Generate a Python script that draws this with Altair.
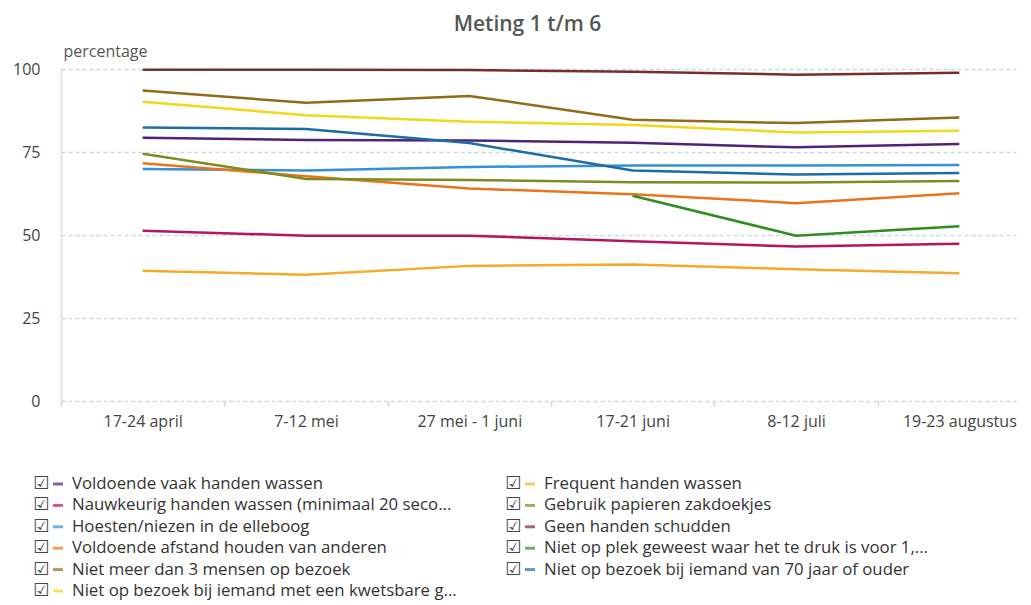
import json
import altair as alt
import pandas as pd

periods = ["17-24 april", "7-12 mei", "27 mei - 1 juni", "17-21 juni", "8-12 juli", "19-23 augustus"]

names = [
    "Voldoende vaak handen wassen",
    "Nauwkeurig handen wassen (minimaal 20 seco...",
    "Hoesten/niezen in de elleboog",
    "Voldoende afstand houden van anderen",
    "Niet meer dan 3 mensen op bezoek",
    "Niet op bezoek bij iemand met een kwetsbare g...",
    "Frequent handen wassen",
    "Gebruik papieren zakdoekjes",
    "Geen handen schudden",
    "Niet op plek geweest waar het te druk is voor 1,...",
    "Niet op bezoek bij iemand van 70 jaar of ouder",
]
colors = ["#4e2378", "#b5155f", "#3590d6", "#e8741c", "#8f6d16", "#f2d81a",
          "#f5ab28", "#7c8c1f", "#7a2b2b", "#2f8c1e", "#1c6ca6"]

voldoende_vaak = [79.3, 78.6, 78.5, 77.8, 76.4, 77.4]
nauwkeurig = [51.3, 49.8, 49.8, 48.1, 46.5, 47.4]
hoesten = [69.9, 69.4, 70.5, 70.9, 70.9, 71.1]
afstand = [71.6, 67.7, 64.0, 62.3, 59.6, 62.6]
max3 = [93.5, 89.8, 91.9, 84.7, 83.7, 85.4]
kwetsbaar = [90.1, 86.1, 84.1, 83.1, 80.9, 81.4]
frequent = [39.2, 38.0, 40.7, 41.1, 39.7, 38.5]
zakdoekjes = [74.5, 66.9, 66.6, 65.9, 65.8, 66.3]
geen_handen = [99.8, 99.8, 99.7, 99.2, 98.3, 98.9]
druk = [None, None, None, 61.8, 49.8, 52.6]
bezoek70 = [82.4, 81.9, 77.7, 69.4, 68.2, 68.7]

series = [voldoende_vaak, nauwkeurig, hoesten, afstand, max3, kwetsbaar,
          frequent, zakdoekjes, geen_handen, druk, bezoek70]

rows = []
for name, vals in zip(names, series):
    for idx, (p, v) in enumerate(zip(periods, vals)):
        if v is not None:
            rows.append({"series": name, "period": p, "idx": idx, "value": v})
df = pd.DataFrame(rows)

leg_rows = []
for i, name in enumerate(names):
    leg_rows.append({"series": name, "col": i // 6, "row": i % 6})
leg_df = pd.DataFrame(leg_rows)

FONT = "Open Sans"
GRID = "#c9d7e6"
color_scale = alt.Scale(domain=names, range=colors)

n = len(periods)
tick_values = [i * 0.5 - 0.5 for i in range(2 * n)]
label_expr = ("datum.value % 1 === 0 ? " + json.dumps(periods) + "[datum.value] : ''")

lines = alt.Chart(df).mark_line(strokeWidth=2.5).encode(
    x=alt.X("idx:Q", scale=alt.Scale(domain=[-0.5, 5.347], nice=False, zero=False),
            axis=alt.Axis(title=None, values=tick_values, labelExpr=label_expr,
                          labelOverlap=False, labelFlush=False, domain=False, grid=False,
                          tickSize={"condition": {"test": "datum.value % 1 === 0", "value": 0}, "value": 5},
                          tickColor=GRID, tickWidth=1.5, labelAngle=0,
                          labelPadding=12, labelFontSize=16, labelColor="#444", labelFont=FONT)),
    y=alt.Y("value:Q", scale=alt.Scale(domain=[0, 100]),
            axis=alt.Axis(values=[0, 25, 50, 75, 100], title="percentage", titleAngle=0,
                          titleX=2, titleY=-10, titleAlign="left", titleBaseline="bottom",
                          titleFontWeight="normal", titleFontSize=16, titleColor="#555",
                          titleFont=FONT, labelFont=FONT, labelFontSize=16, labelColor="#444",
                          labelPadding=21, ticks=False, domainColor="#d6e0ec", domainWidth=1.5,
                          gridColor=GRID, gridDash=[4, 3], gridWidth=1.5)),
    color=alt.Color("series:N", scale=color_scale, legend=None),
    detail="series:N",
).properties(width=955, height=332)

leg_base = alt.Chart(leg_df).encode(
    x=alt.X("col:Q", scale=alt.Scale(domain=[0, 1]), axis=None),
    y=alt.Y("row:Q", scale=alt.Scale(domain=[0, 5], reverse=True), axis=None),
)
check = leg_base.mark_text(text="☑", dx=-20, fontSize=18, color="#444",
                           align="center", baseline="middle", font="DejaVu Sans")
dash = leg_base.mark_tick(orient="horizontal", size=10, thickness=3, xOffset=-3).encode(
    color=alt.Color("series:N", scale=color_scale, legend=None))
label = leg_base.mark_text(align="left", baseline="middle", dx=11, fontSize=16.8,
                           font=FONT, color="#333").encode(text="series:N")
legend = alt.layer(check, dash, label).properties(width=472, height=107)

chart = alt.vconcat(lines, legend, spacing=41).properties(
    title=alt.Title("Meting 1 t/m 6", anchor="middle", fontSize=21, font=FONT,
                    fontWeight=600, color="#555", offset=8, dx=13),
    padding={"left": 4, "top": 6, "right": 0, "bottom": 0},
).configure_view(stroke=None)

chart.save("out.html", embed_options={"renderer": "svg", "actions": False})
